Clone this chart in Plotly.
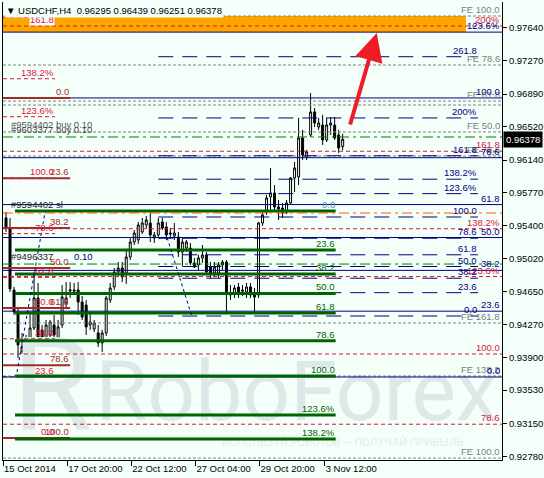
import plotly.graph_objects as go

FONT = "Liberation Sans"
BG = "#F5FFFA"

# USDCHF H4 bars, left to right
bar_open = [0.95484, 0.95370, 0.94666, 0.94417, 0.93974, 0.94020, 0.94122, 0.94235, 0.94576, 0.94213,
            0.94099, 0.94156, 0.94269, 0.94065, 0.94269, 0.94519, 0.94655, 0.94666, 0.94666, 0.94530,
            0.94496, 0.94269, 0.94224, 0.94179, 0.94065, 0.94179, 0.94553, 0.94701, 0.94871, 0.94916,
            0.94859, 0.95041, 0.95211, 0.95234, 0.95325, 0.95404, 0.95427, 0.95256, 0.95291, 0.95438,
            0.95381, 0.95313, 0.95279, 0.95268, 0.95098, 0.95143, 0.95143, 0.94973, 0.94950, 0.95030,
            0.95064, 0.94927, 0.94859, 0.94859, 0.94950, 0.94984, 0.94632, 0.94632, 0.94701, 0.94666,
            0.94644, 0.94701, 0.94632, 0.94610, 0.95427, 0.95552, 0.95723, 0.95768, 0.95609, 0.95597,
            0.95552, 0.95654, 0.95938, 0.95950, 0.96392, 0.96176, 0.96426, 0.96687, 0.96517, 0.96539,
            0.96369, 0.96539, 0.96539, 0.96426, 0.96295]
bar_high = [0.95552, 0.95484, 0.94701, 0.94462, 0.94179, 0.94156, 0.94417, 0.94871, 0.94746, 0.94269,
            0.94326, 0.94326, 0.94383, 0.94326, 0.94723, 0.94757, 0.94757, 0.94746, 0.94757, 0.94598,
            0.94553, 0.94405, 0.94326, 0.94269, 0.94213, 0.94598, 0.94746, 0.94916, 0.94984, 0.94984,
            0.95120, 0.95256, 0.95347, 0.95438, 0.95484, 0.95506, 0.95552, 0.95325, 0.95484, 0.95484,
            0.95438, 0.95370, 0.95427, 0.95325, 0.95256, 0.95234, 0.95200, 0.95030, 0.95064, 0.95177,
            0.95098, 0.94984, 0.94984, 0.94984, 0.95007, 0.95007, 0.94723, 0.94723, 0.94746, 0.94723,
            0.94746, 0.94746, 0.94689, 0.95438, 0.95552, 0.95745, 0.96051, 0.95858, 0.95688, 0.95654,
            0.95688, 0.95950, 0.96119, 0.96619, 0.96483, 0.96256, 0.96902, 0.96732, 0.96619, 0.96653,
            0.96619, 0.96630, 0.96630, 0.96483, 0.96439]
bar_low = [0.95325, 0.94644, 0.94383, 0.93895, 0.93940, 0.93986, 0.94099, 0.94213, 0.94088, 0.94043,
           0.94077, 0.94099, 0.94077, 0.94043, 0.94235, 0.94462, 0.94576, 0.94610, 0.94383, 0.94326,
           0.94156, 0.94213, 0.94190, 0.94020, 0.93963, 0.94145, 0.94519, 0.94666, 0.94825, 0.94757,
           0.94735, 0.95007, 0.95177, 0.95189, 0.95302, 0.95370, 0.95211, 0.95200, 0.95268, 0.95347,
           0.95234, 0.95256, 0.95234, 0.95041, 0.94939, 0.95098, 0.94950, 0.94916, 0.94893, 0.94973,
           0.94837, 0.94803, 0.94825, 0.94803, 0.94893, 0.94417, 0.94553, 0.94576, 0.94576, 0.94598,
           0.94576, 0.94576, 0.94405, 0.94576, 0.95393, 0.95518, 0.95574, 0.95574, 0.95461, 0.95484,
           0.95529, 0.95631, 0.95779, 0.95858, 0.96142, 0.96142, 0.96403, 0.96517, 0.96483, 0.96313,
           0.96346, 0.96426, 0.96369, 0.96222, 0.96251]
bar_close = [0.95370, 0.94678, 0.94417, 0.94043, 0.94020, 0.94122, 0.94235, 0.94576, 0.94122, 0.94099,
             0.94269, 0.94303, 0.94156, 0.94247, 0.94587, 0.94576, 0.94666, 0.94655, 0.94530, 0.94360,
             0.94247, 0.94303, 0.94292, 0.94065, 0.94179, 0.94576, 0.94689, 0.94871, 0.94916, 0.94814,
             0.95041, 0.95211, 0.95313, 0.95404, 0.95427, 0.95461, 0.95291, 0.95291, 0.95427, 0.95370,
             0.95291, 0.95302, 0.95313, 0.95098, 0.95211, 0.95211, 0.94973, 0.94927, 0.95030, 0.95064,
             0.94871, 0.94859, 0.94927, 0.94950, 0.94984, 0.94632, 0.94610, 0.94689, 0.94632, 0.94655,
             0.94701, 0.94610, 0.94587, 0.95427, 0.95518, 0.95711, 0.95768, 0.95609, 0.95586, 0.95541,
             0.95654, 0.95938, 0.96051, 0.96392, 0.96199, 0.96233, 0.96687, 0.96562, 0.96562, 0.96369,
             0.96539, 0.96562, 0.96392, 0.96278, 0.96378]
bar_index = list(range(len(bar_open)))

time_ticks = [-0.75, 15.25, 31.25, 47.25, 63.25, 79.5]
time_labels = ["15 Oct 2014", "17 Oct 20:00", "22 Oct 12:00", "27 Oct 04:00", "29 Oct 20:00", "3 Nov 12:00"]
price_ticks = [0.97640, 0.97270, 0.96890, 0.96520, 0.96140, 0.95770, 0.95400,
               0.95020, 0.94650, 0.94270, 0.93900, 0.93530, 0.93150, 0.92780]
price_tick_text = ["0.97640", "0.97270", "0.96890", "0.96520", "0.96140", "0.95770", "0.95400",
                   "0.95020", "0.94650", "0.94270", "0.93900", "0.93530", "0.93150", "0.92780"]
last_price = 0.96378

# fibonacci tools, level prices as drawn on the chart
navy_solid = [0.93679, 0.94426, 0.94889, 0.95262, 0.95636, 0.96168, 0.96846, 0.97593]
navy_solid_labels = ["0.0", "23.6", "38.2", "50.0", "61.8", "78.6", "100.0", "123.6%"]

navy_dash = [0.94371, 0.94636, 0.94800, 0.94933, 0.95066, 0.95254, 0.95495,
             0.95760, 0.95924, 0.96190, 0.96619, 0.97314]
navy_dash_labels = ["0.0", "23.6", "38.2", "50.0", "61.8", "78.6", "100.0",
                    "123.6%", "138.2%", "161.8", "200%", "261.8"]

red_right = [0.93143, 0.93940, 0.94819, 0.95362, 0.96241, 0.97663]
red_right_labels = ["78.6", "100.0", "123.6%", "138.2%", "161.8", "200%"]

red_left = [0.92986, 0.93682, 0.94113, 0.94462, 0.94810, 0.95306, 0.95937, 0.96633, 0.97064, 0.97761]
red_left_labels = ["0.0", "23.6", "38.2", "50.0", "61.8", "78.6", "100.0", "123.6%", "138.2%", "161.8"]

brown_fibo = [0.96846, 0.95935, 0.95371, 0.94916, 0.94461, 0.93812, 0.92986]
brown_labels = ["0.0", "23.6", "38.2", "50.0", "61.8", "78.6", "100.0"]

green_fibo = [0.95563, 0.95121, 0.94848, 0.94627, 0.94405, 0.94091, 0.93690, 0.93248, 0.92975]
green_labels = ["0.0", "23.6", "38.2", "50.0", "61.8", "78.6", "100.0", "123.6%", "138.2%"]

fe_levels = [0.97776, 0.97220, 0.96811, 0.96766, 0.96460, 0.96187, 0.94292, 0.93690, 0.92759]
fe_labels = ["FE 100.0", "FE 78.6", "FE 61.8", "", "FE 50.0", "FE 78.6", "FE 161.8", "FE 138.2", "FE 100.0"]

buy_lines = [0.96403, 0.94961]
stop_line = 0.95540
target_zone = [0.97594, 0.97776]

# expansion helper lines (bar index, price)
helper_a_x = [2.75, 9.75]
helper_a_y = [0.93736, 0.95552]
helper_b_x = [39.75, 46.5]
helper_b_y = [0.95325, 0.94349]

arrow_from = (85.75, 0.96527)
arrow_to = (92.5, 0.97583)

X_MIN, X_MAX = -0.75, 123.75
Y_MIN, Y_MAX = 0.92737, 0.97935

fig = go.Figure()


def hline(y, x0, x1, color, width=1, dash="solid"):
    fig.add_trace(go.Scatter(x=[x0, x1], y=[y, y], mode="lines",
                             line=dict(color=color, width=width, dash=dash),
                             hoverinfo="skip", showlegend=False))


def label(text, x, y, color, xref="x", xanchor="right", xshift=0, yshift=0, bg=None):
    if not text:
        return
    fig.add_annotation(x=x, y=y, xref=xref, yref="y", text=text, showarrow=False,
                       xanchor=xanchor, yanchor="bottom", xshift=xshift, yshift=yshift,
                       borderpad=0, bgcolor=bg,
                       font=dict(family=FONT, size=9.5, color=color))


# watermark first so everything else sits on top of it
fig.add_trace(go.Scatter(x=[72.5], y=[0.93430], mode="text", text=["RoboForex"],
                         textfont=dict(family="Roboto", size=84, color="#dde8e8"),
                         hoverinfo="skip", showlegend=False))
fig.add_trace(go.Scatter(x=[11.5], y=[0.93460], mode="text", text=["R"],
                         textfont=dict(family="Roboto", size=130, color="#dde8e8"),
                         hoverinfo="skip", showlegend=False))
fig.add_trace(go.Scatter(x=[84], y=[0.92930], mode="text",
                         text=["ИСПОЛЬЗУЙ РОБОТОВ — ПОЛУЧАЙ ПРИБЫЛЬ"],
                         textfont=dict(family="Roboto", size=11, color="#e3ecec"),
                         hoverinfo="skip", showlegend=False))

# target zone
fig.add_shape(type="rect", x0=X_MIN, x1=114.75, y0=target_zone[0], y1=target_zone[1],
              xref="x", yref="y", fillcolor="#FFA500", line_width=0, layer="below")

for lvl in fe_levels:
    hline(lvl, X_MIN, X_MAX, "#808080", 1, "3px,2px")
for lvl in red_right:
    hline(lvl, X_MIN, X_MAX, "#DC143C", 1, "4px,3px")
for lvl in red_left:
    hline(lvl, X_MIN, 12.25, "#DC143C", 1, "4px,3px")
for lvl in navy_solid:
    hline(lvl, X_MIN, X_MAX, "#000080", 1)
for lvl in navy_dash:
    hline(lvl, 38, 117.75, "#000080", 1, "15px,9px")
for lvl in brown_fibo:
    hline(lvl, X_MIN, 16, "#A52A2A", 2)
for lvl in green_fibo:
    hline(lvl, 2.25, 82.25, "#006400", 3)
for lvl in buy_lines:
    hline(lvl, X_MIN, X_MAX, "#008000", 1, "10px,4px,3px,4px")
hline(stop_line, X_MIN, X_MAX, "#FF5A00", 1, "10px,4px,3px,4px")

fig.add_trace(go.Scatter(x=helper_a_x, y=helper_a_y, mode="lines",
                         line=dict(color="#000080", width=1, dash="dot"),
                         hoverinfo="skip", showlegend=False))
fig.add_trace(go.Scatter(x=helper_b_x, y=helper_b_y, mode="lines",
                         line=dict(color="#000080", width=1, dash="dot"),
                         hoverinfo="skip", showlegend=False))

fig.add_trace(go.Candlestick(
    x=bar_index, open=bar_open, high=bar_high, low=bar_low, close=bar_close,
    increasing=dict(fillcolor="white", line=dict(color="black", width=1)),
    decreasing=dict(fillcolor="black", line=dict(color="black", width=1)),
    whiskerwidth=0, hoverinfo="skip", showlegend=False))

# level captions
for lvl, txt in zip(fe_levels, fe_labels):
    label(txt, 1, lvl, "#808080", xref="paper", xshift=-1)
for lvl, txt in zip(red_right, red_right_labels):
    label(txt, 1, lvl, "#DC143C", xref="paper", xshift=-1)
for lvl, txt in zip(navy_solid, navy_solid_labels):
    label(txt, 1, lvl, "#000080", xref="paper", xshift=-1)
for lvl, txt in zip(navy_dash, navy_dash_labels):
    label(txt, 117.75, lvl, "#000080")
for lvl, txt in zip(red_left, red_left_labels):
    if txt == "161.8":
        # sits under the symbol caption, on the orange band
        label(txt, 12.25, lvl, "#DC143C", yshift=-9, bg=BG)
    else:
        label(txt, 12.25, lvl, "#DC143C")
for lvl, txt in zip(brown_fibo, brown_labels):
    label(txt, 16, lvl, "#A52A2A")
for lvl, txt in zip(green_fibo, green_labels):
    label(txt, 82.25, lvl, "#4F94A8" if txt == "0.0" else "#006400")

label("#9594402 buy 0.10", 1, buy_lines[0], "#555555", xanchor="left", yshift=6)
label("#9603377 buy 0.10", 1, buy_lines[0], "#444444", xanchor="left", yshift=1)
label("#9594402 sl", 1, stop_line, "#222222", xanchor="left", yshift=2)
label("#9496337", 1, buy_lines[1], "#222222", xanchor="left", yshift=1)
label("0.10", 16.75, buy_lines[1], "#000080", xanchor="left", yshift=1)

fig.add_annotation(x=arrow_to[0], y=arrow_to[1], ax=arrow_from[0], ay=arrow_from[1],
                   xref="x", yref="y", axref="x", ayref="y", text="", showarrow=True,
                   arrowhead=2, arrowsize=1.4, arrowwidth=4, arrowcolor="#EE1C25")

fig.add_annotation(x=0, y=1, xref="paper", yref="paper", xanchor="left", yanchor="top",
                   xshift=1, yshift=-1, showarrow=False, bgcolor=BG, borderpad=1,
                   text="▼ USDCHF,H4  0.96295 0.96439 0.96251 0.96378",
                   font=dict(family=FONT, size=9.5, color="black"))

fig.add_annotation(x=1, y=last_price, xref="paper", yref="y", xanchor="left", yanchor="middle",
                   xshift=1, showarrow=False, bgcolor="black", borderpad=2,
                   text=f"{last_price:.5f}", font=dict(family=FONT, size=9.5, color="white"))

fig.update_layout(
    width=544, height=478,
    margin=dict(l=3, r=42, t=2, b=18),
    paper_bgcolor=BG, plot_bgcolor=BG,
    showlegend=False,
    font=dict(family=FONT, size=9.5, color="black"),
    xaxis=dict(range=[X_MIN, X_MAX], rangeslider=dict(visible=False),
               tickvals=time_ticks, ticktext=time_labels, ticklabelposition="outside right",
               ticks="outside", ticklen=5, tickcolor="black", showgrid=False, zeroline=False,
               showline=True, linecolor="black", linewidth=1, mirror=False),
    yaxis=dict(range=[Y_MIN, Y_MAX], side="right", tickvals=price_ticks, ticktext=price_tick_text,
               ticks="outside", ticklen=4, tickcolor="black", showgrid=False, zeroline=False,
               showline=True, linecolor="black", linewidth=1, mirror=True),
)

fig.write_html("out.html", config={"displayModeBar": False},
               post_script="document.body.style.margin='0';")
